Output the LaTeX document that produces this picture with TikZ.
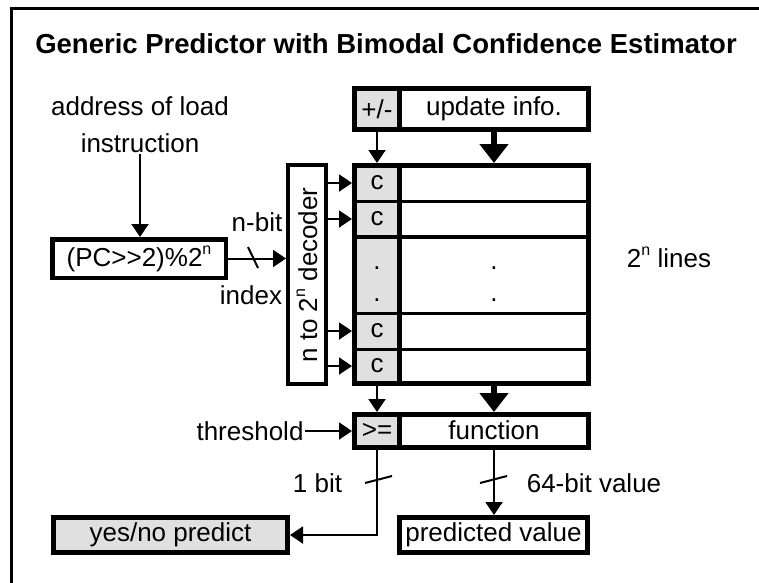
\documentclass[tikz,border=0pt]{standalone}
\usepackage{fontspec}
\setmainfont{Liberation Sans}
\usetikzlibrary{arrows.meta}
\definecolor{cellgray}{RGB}{224,224,224}
\newcommand\fs{\fontsize{26}{37}\selectfont}
\newcommand\supn{\raisebox{12pt}{\fontsize{16}{16}\selectfont n}}
\begin{document}
\begin{tikzpicture}[x=1pt,y=-1pt,
  boxstyle/.style={draw, line width=5pt, inner sep=0pt, font=\fs},
  cell/.style={fill=cellgray, inner sep=0pt, minimum width=40pt, font=\fs},
  lbl/.style={font=\fs, inner sep=1pt},
  thinarrow/.style={line width=2pt, -{Triangle[length=13pt,width=17pt]}},
  thickarrow/.style={line width=6pt, -{Triangle[length=19pt,width=28pt]}},
  slash/.style={line width=2pt},
  divider/.style={line width=5pt}]
\useasboundingbox (0,0) rectangle (759,582);
\draw[line width=3pt] (11,8) rectangle (820,640);
\node[font=\fontsize{27.5}{30}\selectfont\bfseries] (title) at (386,44) {Generic Predictor with Bimodal Confidence Estimator};
% update box
\node[boxstyle, minimum width=234pt, minimum height=41pt] (upd) at (471.5,109) {};
\node[cell, minimum height=36pt] (pm) at (377,109) {+/-};
\draw[divider] (399.5,88.5) -- (399.5,129.5);
\node[lbl] (updtxt) at (494,109) {update info.};
% table
\node[boxstyle, minimum width=234pt, minimum height=218pt] (tab) at (471.5,274.5) {};
\fill[cellgray] (357,168) rectangle (397,381);
\foreach \y/\w in {201/3,237/4,313/3,349/3} \draw[line width=\w pt] (354.5,\y) -- (588.5,\y);
\draw[divider] (399.5,165.5) -- (399.5,383.5);
\node[lbl] (c1) at (377,183) {c};
\node[lbl] (c2) at (377,219) {c};
\node[lbl] (c4) at (377,331) {c};
\node[lbl] (c5) at (377,366) {c};
\node[lbl] (d1) at (377,268) {.};
\node[lbl] (d2) at (377,300) {.};
\node[lbl] (d3) at (494,268) {.};
\node[lbl] (d4) at (494,300) {.};
% decoder
\node[draw, line width=4pt, minimum width=38pt, minimum height=219pt, inner sep=0pt] (dec) at (307,274.5) {};
\node[lbl, rotate=90] (dectxt) at (307,275) {n to 2\supn{} decoder};
\foreach \c in {c1,c2,c4,c5} \draw[thinarrow] (dec.east |- \c) -- (\c -| tab.west);
% PC box
\node[draw, line width=4.5pt, minimum width=173.5pt, minimum height=38.5pt, inner sep=0pt, font=\fs] (pc) at (139,258.5) {(PC>\kern0pt>2)\%2\supn};
\draw[thinarrow] (pc.east) -- (dec.west |- pc.east);
\draw[slash] (248,247) -- (258,268);
\node[lbl] (nbit) at (257,222) {n-bit};
\node[lbl] (index) at (251,295) {index};
\node[lbl, align=center] (addr) at (140,125) {address of load\\instruction};
\draw[thinarrow] (addr.south) -- (addr.south |- pc.north);
% update arrows
\draw[thinarrow] (pm |- upd.south) -- (pm |- tab.north);
\draw[thickarrow] (updtxt |- upd.south) -- (updtxt |- tab.north);
% function box
\node[boxstyle, minimum width=234pt, minimum height=33pt] (fn) at (471.5,431) {};
\node[cell, minimum height=28pt] (ge) at (377,431) {>=};
\draw[divider] (399.5,414.5) -- (399.5,447.5);
\node[lbl] (fntxt) at (494,430) {function};
\draw[thinarrow] (pm |- tab.south) -- (ge |- fn.north);
\draw[thickarrow] (fntxt |- tab.south) -- (fntxt |- fn.north);
\node[lbl] (thr) at (250,431) {threshold};
\draw[thinarrow] (thr.east) -- (fn.west |- thr.east);
% outputs
\node[boxstyle, fill=cellgray, minimum width=234pt, minimum height=35pt] (yn) at (170.5,535) {yes/no predict};
\node[boxstyle, minimum width=188pt, minimum height=35pt] (pv) at (493.5,535) {predicted value};
\draw[thinarrow] (ge |- fn.south) |- (yn.east);
\draw[slash] (365,483) -- (392,476);
\node[lbl] (onebit) at (317.5,483) {1 bit};
\draw[thinarrow] (fntxt |- fn.south) -- (fntxt |- pv.north);
\draw[slash] (480,483) -- (507,476);
\node[lbl] (val) at (594,483) {64-bit value};
\node[lbl] (lines) at (669,257) {2\supn{} lines};
\end{tikzpicture}
\end{document}
